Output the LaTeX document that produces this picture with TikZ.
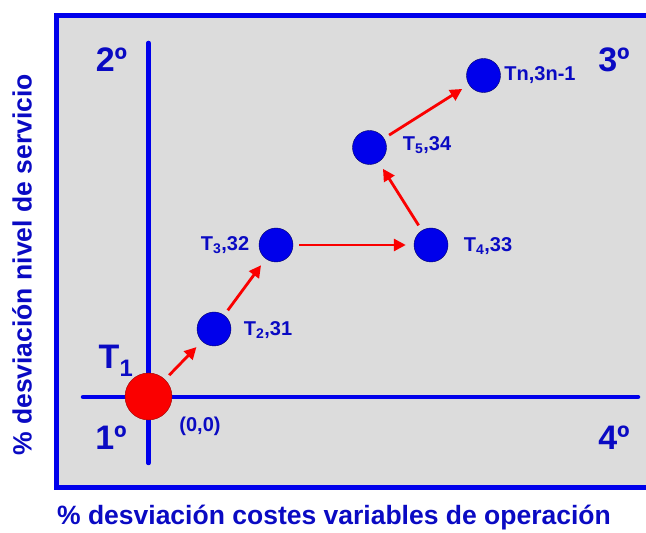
\documentclass[tikz,border=0pt]{standalone}
\usepackage{fontspec}
\setmainfont{Liberation Sans}
\usetikzlibrary{arrows.meta}
\definecolor{lineblue}{RGB}{0,0,235}
\definecolor{txtblue}{RGB}{10,10,195}
\definecolor{panel}{RGB}{220,220,220}
\definecolor{ptred}{RGB}{250,0,0}

\begin{document}
\begin{tikzpicture}[x=1pt, y=1pt,
    axis/.style={draw=lineblue, line width=4.5pt, line cap=round},
    point/.style={circle, draw=black!60!blue, line width=0.4pt, fill=lineblue, minimum size=34pt, inner sep=0pt},
    origin/.style={circle, draw=black!40!red, line width=0.4pt, fill=ptred, minimum size=47pt, inner sep=0pt},
    lbl/.style={text=txtblue, inner sep=0pt, font=\bfseries\fontsize{20}{23}\selectfont},
    quad/.style={text=txtblue, inner sep=0pt, font=\bfseries\fontsize{34}{37}\selectfont},
    title/.style={text=txtblue, inner sep=0pt, font=\bfseries\fontsize{26.5}{29}\selectfont},
    arr/.style={-{Triangle[length=12pt, width=12pt]}, draw=ptred, line width=2.8pt, shorten <=6pt, shorten >=8pt}
]
    \useasboundingbox (0,0) rectangle (646,533);
    \clip (0,0) rectangle (646,533);

    % panel
    \draw[draw=lineblue, line width=5pt, fill=panel] (56,45) rectangle (670,517);

    % axes
    \coordinate (ytop) at (148.5,490);
    \coordinate (ybot) at (148.5,70);
    \coordinate (xleft)  at (83,136);
    \coordinate (xright) at (638,136);
    \draw[axis] (ybot) -- (ytop);
    \draw[axis] (xleft) -- (xright);

    % points
    \node[origin] (t1) at (148.5,136.5) {};
    \node[point]  (t2) at (214,204)     {};
    \node[point]  (t3) at (276,288)     {};
    \node[point]  (t4) at (431,288)     {};
    \node[point]  (t5) at (369.5,385.5) {};
    \node[point]  (tn) at (483.5,457.5) {};

    % labels
    \node[lbl] (l2) at (268,203) {T\textsubscript{2},31};
    \node[lbl] (l3) at (225,288) {T\textsubscript{3},32};
    \node[lbl] (l4) at (488,287) {T\textsubscript{4},33};
    \node[lbl] (l5) at (427,388) {T\textsubscript{5},34};
    \node[lbl] (ln) at (540,458) {Tn,3n-1};
    \node[lbl] (l0) at (200,107) {(0,0)};
    \node[quad] (l1) at (116,172) {T\textsubscript{1}};

    % quadrants
    \node[quad] (q2) at (111.5,473.5) {2º};
    \node[quad] (q3) at (614,473.5)   {3º};
    \node[quad] (q1) at (111,95)      {1º};
    \node[quad] (q4) at (614,95)      {4º};

    % axis titles
    \node[title] (xt) at (334,15) {\% desviación costes variables de operación};
    \node[title, rotate=90] (yt) at (22,268) {\% desviación nivel de servicio};

    % path
    \draw[arr] (t1) -- (t2);
    \draw[arr] (t2) -- (t3);
    \draw[arr] (t3) -- (t4);
    \draw[arr] (t4) -- (t5);
    \draw[arr] (t5) -- (tn);
\end{tikzpicture}
\end{document}
